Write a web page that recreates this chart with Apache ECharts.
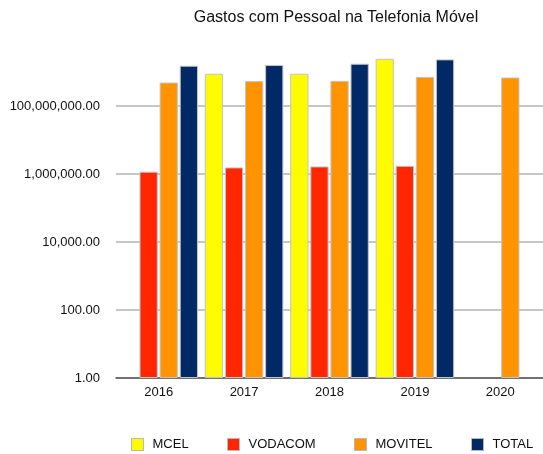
<!DOCTYPE html>
<html>
<head>
<meta charset="utf-8">
<script src="https://cdn.jsdelivr.net/npm/echarts@6/dist/echarts.min.js"></script>
<style>
  html, body { margin: 0; padding: 0; background: #fff; }
  #chart { width: 543px; height: 454px; }
</style>
</head>
<body>
<div id="chart"></div>
<script>
// categorias e valores
var years = ['2016', '2017', '2018', '2019', '2020'];
var mcel = [null, 8.9e8, 8.9e8, 2.45e9, null];
var vodacom = [1.17e6, 1.56e6, 1.67e6, 1.74e6, null];
var movitel = [4.9e8, 5.4e8, 5.5e8, 7.2e8, 6.9e8];
var total = [1.53e9, 1.6e9, 1.75e9, 2.35e9, null];
var seriesNames = ['MCEL', 'VODACOM', 'MOVITEL', 'TOTAL'];

var font = 'Liberation Sans';

var chart = echarts.init(document.getElementById('chart'));

function bar(name, data, color) {
  return {
    name: name,
    type: 'bar',
    data: data,
    barGap: '10%',
    barCategoryGap: '8%',
    itemStyle: { color: color, borderColor: '#c4c4c4', borderWidth: 1 }
  };
}

// uma legenda por série, para fixar a posição de cada item
var legendLeft = [131, 227, 354, 471];
var legends = seriesNames.map(function (name, i) {
  return {
    data: [name],
    top: 438,
    left: legendLeft[i],
    padding: 0,
    itemWidth: 12,
    itemHeight: 12,
    icon: 'rect',
    textStyle: { fontFamily: font, fontSize: 13, color: '#111', padding: [0, 0, 0, 4] },
    itemStyle: { borderColor: '#b8b8b8', borderWidth: 1 }
  };
});

chart.setOption({
  animation: false,
  title: {
    text: 'Gastos com Pessoal na Telefonia Móvel',
    left: 331,
    textAlign: 'center',
    top: 5,
    textStyle: { fontFamily: font, fontSize: 16, fontWeight: 'normal', color: '#111' }
  },
  grid: { left: 116, right: -4, top: 38, bottom: 76 },
  legend: legends,
  xAxis: {
    type: 'category',
    data: years,
    axisTick: { show: false },
    axisLine: { lineStyle: { color: '#555', width: 1.5 } },
    axisLabel: { fontFamily: font, fontSize: 13, color: '#111', margin: 8 }
  },
  yAxis: {
    type: 'log',
    logBase: 100,
    min: 1,
    max: 1e10,
    interval: 1,
    axisLine: { show: false },
    axisTick: { show: false },
    splitLine: { showMaxLine: false, lineStyle: { color: '#b4b4b4', width: 1.5 } },
    axisLabel: {
      showMaxLabel: false,
      fontFamily: font, fontSize: 13, color: '#111', margin: 16,
      formatter: function (v) {
        return v.toLocaleString('en-US', { minimumFractionDigits: 2, maximumFractionDigits: 2 });
      }
    }
  },
  series: [
    bar('MCEL', mcel, '#fffb00'),
    bar('VODACOM', vodacom, '#ff2600'),
    bar('MOVITEL', movitel, '#ff9300'),
    bar('TOTAL', total, '#002966')
  ]
});
</script>
</body>
</html>
